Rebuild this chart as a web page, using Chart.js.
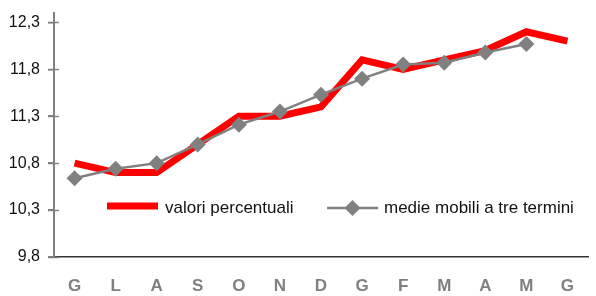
<!DOCTYPE html>
<html>
<head>
<meta charset="utf-8">
<script src="https://cdn.jsdelivr.net/npm/chart.js@4/dist/chart.umd.min.js"></script>
<style>
  html, body { margin: 0; padding: 0; background: #fff; }
  #wrap { width: 596px; height: 296px; position: relative; }
</style>
</head>
<body>
<div id="wrap"><canvas id="c" width="596" height="296"></canvas></div>
<script>
const categories = ['G','L','A','S','O','N','D','G','F','M','A','M','G'];
const valoriPercentuali = [10.8, 10.7, 10.7, 11.0, 11.3, 11.3, 11.4, 11.9, 11.8, 11.9, 12.0, 12.2, 12.1];
const medieMobili = [10.64, 10.74, 10.8, 11.0, 11.21, 11.35, 11.53, 11.7, 11.85, 11.87, 11.98, 12.07, null];
const yTicks = [9.8, 10.3, 10.8, 11.3, 11.8, 12.3];
const seriesLabels = ['valori percentuali', 'medie mobili a tre termini'];

const FONT = "'Liberation Sans', Arial, sans-serif";

const innerTicks = {
  id: 'innerTicks',
  afterDatasetsDraw(chart) {
    const ctx = chart.ctx;
    const y = chart.scales.y;
    ctx.save();
    ctx.strokeStyle = '#808080';
    ctx.lineWidth = 1.5;
    y.ticks.forEach(t => {
      const py = Math.round(y.getPixelForValue(t.value)) + 0.5;
      ctx.beginPath();
      ctx.moveTo(y.right - 6, py);
      ctx.lineTo(y.right + 5, py);
      ctx.stroke();
    });
    ctx.restore();
  }
};

const customLegend = {
  id: 'customLegend',
  afterDraw(chart) {
    const ctx = chart.ctx;
    ctx.save();
    ctx.font = "17px " + FONT;
    ctx.fillStyle = '#111';
    ctx.textBaseline = 'middle';
    // red entry
    ctx.strokeStyle = '#ff0000';
    ctx.lineWidth = 7;
    ctx.beginPath();
    ctx.moveTo(107, 206);
    ctx.lineTo(158, 206);
    ctx.stroke();
    ctx.fillText(seriesLabels[0], 165, 208);
    // grey entry
    ctx.strokeStyle = '#808080';
    ctx.lineWidth = 2.5;
    ctx.beginPath();
    ctx.moveTo(327, 208);
    ctx.lineTo(378, 208);
    ctx.stroke();
    ctx.fillStyle = '#808080';
    ctx.beginPath();
    ctx.moveTo(352.5, 200);
    ctx.lineTo(360.5, 208);
    ctx.lineTo(352.5, 216);
    ctx.lineTo(344.5, 208);
    ctx.closePath();
    ctx.fill();
    ctx.fillStyle = '#111';
    ctx.fillText(seriesLabels[1], 384, 208);
    ctx.restore();
  }
};

new Chart(document.getElementById('c'), {
  type: 'line',
  data: {
    labels: categories,
    datasets: [
      {
        label: seriesLabels[1],
        data: medieMobili,
        borderColor: '#808080',
        backgroundColor: '#808080',
        borderWidth: 2.5,
        pointStyle: 'rectRot',
        pointRadius: 8,
        pointHoverRadius: 8,
        pointBorderWidth: 0,
        pointBackgroundColor: '#808080',
        tension: 0,
        order: 0
      },
      {
        label: seriesLabels[0],
        data: valoriPercentuali,
        borderColor: '#ff0000',
        backgroundColor: '#ff0000',
        borderWidth: 7,
        borderJoinStyle: 'miter',
        pointRadius: 0,
        tension: 0,
        order: 1
      }
    ]
  },
  options: {
    responsive: false,
    animation: false,
    layout: { padding: { left: 0, right: 0, top: 13, bottom: 0 } },
    plugins: { legend: { display: false }, tooltip: { enabled: false } },
    scales: {
      x: {
        offset: true,
        grid: { display: false, drawTicks: false, tickLength: 0 },
        border: { display: true, color: '#333333', width: 1.5 },
        ticks: {
          color: '#808080',
          font: { family: FONT, size: 17, weight: 'bold' },
          padding: 19,
          maxRotation: 0,
          autoSkip: false
        },
        afterFit(scale) { scale.height = 39; scale.paddingLeft = 0; scale.paddingRight = 0; }
      },
      y: {
        min: 9.8,
        max: 12.4,
        afterBuildTicks(scale) { scale.ticks = yTicks.map(v => ({ value: v })); },
        grid: { display: true, drawOnChartArea: false, drawTicks: true, tickLength: 6, color: '#808080', lineWidth: 1.5 },
        border: { display: true, color: '#808080', width: 2 },
        ticks: {
          color: '#111',
          font: { family: FONT, size: 16 },
          padding: 8,
          callback(v) { return Number(v).toFixed(1).replace('.', ','); }
        },
        afterFit(scale) { scale.width = 54; scale.paddingTop = 0; scale.paddingBottom = 0; }
      }
    }
  },
  plugins: [innerTicks, customLegend]
});
</script>
</body>
</html>
